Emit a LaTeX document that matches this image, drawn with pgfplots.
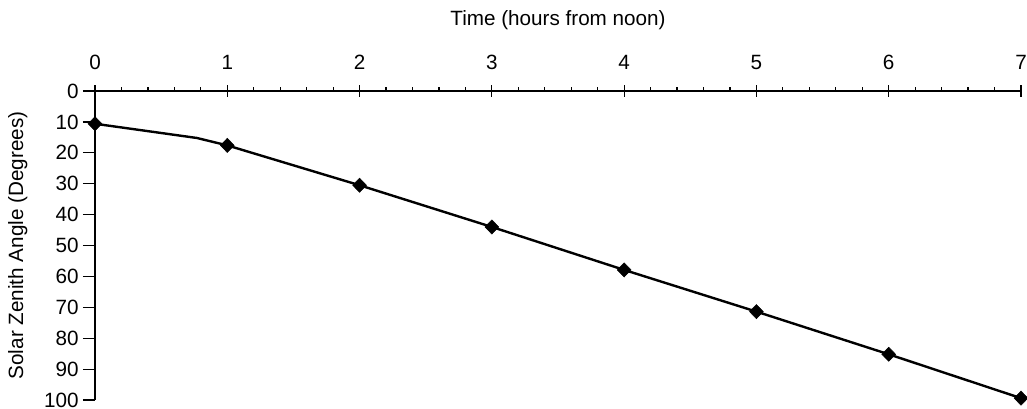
\documentclass[border=0pt]{standalone}
\usepackage{pgfplots}
\pgfplotsset{compat=1.18}
\usepackage{fontspec}
\setmainfont{Liberation Sans}
\begin{document}
\fontsize{15.5}{18}\selectfont
\begin{tikzpicture}
\begin{axis}[
  name=ax,
  scale only axis,
  width=694.5pt, height=231.75pt,
  xmin=0, xmax=7, ymin=0, ymax=100,
  y dir=reverse,
  axis x line*=top, axis y line*=left,
  axis line style={line width=1.2pt, -},
  xtick={0,...,7}, ytick={0,10,...,100},
  minor x tick num=4,
  major tick length=9pt, minor tick length=3pt,
  every tick/.style={black, line width=0.9pt},
  xtick align=center, ytick align=outside,
  xminorticks=true,
  every minor tick/.style={black, line width=0.9pt, yshift=1.5pt},
  xticklabel style={anchor=base, yshift=12pt},
  yticklabel style={anchor=east, xshift=2pt},
  /pgf/number format/assume math mode=true,
  ticklabel style={font=\fontsize{15.5}{18}\selectfont},
  xlabel={Time (hours from noon)},
  ylabel={Solar Zenith Angle (Degrees)},
  label style={font=\fontsize{15.5}{18}\selectfont},
  xlabel style={at={(axis cs:3.5,0)}, anchor=center, yshift=53pt},
  ylabel style={at={(axis cs:0,50)}, anchor=center, yshift=58pt},
  clip=false,
]
\addplot[black, line width=1.8pt, no marks] coordinates {
 (0,10.6) (0.77,15.2) (1,17.6) (2,30.5) (3,44.0) (4,57.9) (5,71.4) (6,85.2) (7,99.4)
};
\addplot[only marks, mark=diamond*, mark size=5.3pt, mark options={fill=black, draw=black, xscale=1.3}] coordinates {
 (0,10.6) (1,17.6) (2,30.5) (3,44.0) (4,57.9) (5,71.4) (6,85.2) (7,99.4)
};
\coordinate (A) at (axis cs:0,0);
\end{axis}
\pgfresetboundingbox
\path[use as bounding box] ([xshift=-71.25pt,yshift=68.25pt]A) rectangle ([xshift=699pt,yshift=-237.75pt]A);
\end{tikzpicture}
\end{document}
